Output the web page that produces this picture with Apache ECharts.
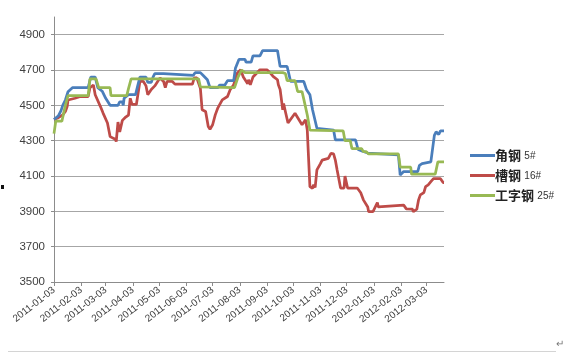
<!DOCTYPE html>
<html>
<head>
<meta charset="utf-8">
<script src="https://cdn.jsdelivr.net/npm/echarts@6/dist/echarts.min.js"></script>
<style>
html,body{margin:0;padding:0;background:#fff;}
#chart{width:567px;height:353px;}
</style>
</head>
<body>
<div id="chart"></div>
<script>
// ---- data ----
const startDate = '2011-01-03';
const endDate = '2012-03-23';
const tickLabels = ['2011-01-03','2011-02-03','2011-03-03','2011-04-03','2011-05-03','2011-06-03',
  '2011-07-03','2011-08-03','2011-09-03','2011-10-03','2011-11-03','2011-12-03',
  '2012-01-03','2012-02-03','2012-03-03'];
const seriesNames = ['角钢 5#', '槽钢 16#', '工字钢 25#'];

const angle5 = [
  ['2011-01-03',4420],['2011-01-08',4440],['2011-01-11',4470],['2011-01-13',4500],['2011-01-16',4530],
  ['2011-01-19',4577],['2011-01-24',4600],['2011-02-11',4600],['2011-02-14',4660],['2011-02-19',4660],
  ['2011-02-22',4600],['2011-02-27',4580],['2011-03-03',4540],['2011-03-08',4500],['2011-03-17',4500],
  ['2011-03-19',4520],['2011-03-22',4520],['2011-03-23',4500],['2011-03-24',4540],['2011-03-29',4560],
  ['2011-04-06',4560],['2011-04-08',4600],['2011-04-11',4660],['2011-04-18',4660],['2011-04-20',4630],
  ['2011-04-24',4630],['2011-04-26',4660],['2011-04-28',4680],['2011-05-08',4680],['2011-05-10',4670],
  ['2011-06-11',4670],['2011-06-13',4685],['2011-06-19',4685],['2011-06-22',4670],['2011-06-27',4645],
  ['2011-06-30',4600],['2011-07-09',4600],['2011-07-11',4615],['2011-07-17',4615],['2011-07-20',4640],
  ['2011-07-27',4640],['2011-07-29',4710],['2011-08-02',4760],['2011-08-09',4760],['2011-08-10',4745],
  ['2011-08-16',4745],['2011-08-18',4780],['2011-08-26',4780],['2011-08-29',4810],['2011-09-15',4810],
  ['2011-09-18',4720],['2011-09-26',4720],['2011-09-30',4635],['2011-10-15',4635],['2011-10-18',4590],
  ['2011-10-22',4560],['2011-10-25',4475],['2011-10-30',4370],['2011-11-18',4360],['2011-11-20',4305],
  ['2011-12-13',4305],['2011-12-16',4250],['2011-12-21',4240],['2011-12-27',4230],['2011-12-29',4220],
  ['2012-01-31',4220],['2012-02-02',4105],['2012-02-06',4125],['2012-02-22',4125],['2012-02-24',4160],
  ['2012-02-27',4170],['2012-03-08',4180],['2012-03-10',4180],['2012-03-12',4330],['2012-03-14',4350],
  ['2012-03-17',4335],['2012-03-19',4355],['2012-03-23',4355]
];

const channel16 = [
  ['2011-01-03',4420],['2011-01-08',4430],['2011-01-10',4437],['2011-01-13',4446],['2011-01-16',4465],
  ['2011-01-18',4493],['2011-01-19',4530],['2011-01-21',4540],['2011-01-27',4540],['2011-02-02',4550],
  ['2011-02-11',4550],['2011-02-13',4600],['2011-02-17',4615],['2011-02-19',4560],['2011-02-21',4550],
  ['2011-02-25',4493],['2011-02-28',4456],['2011-03-05',4400],['2011-03-08',4323],['2011-03-14',4308],
  ['2011-03-15',4295],['2011-03-17',4405],['2011-03-19',4350],['2011-03-22',4415],['2011-03-25',4430],
  ['2011-03-29',4445],['2011-03-31',4540],['2011-04-02',4505],['2011-04-07',4505],['2011-04-11',4635],
  ['2011-04-15',4635],['2011-04-18',4610],['2011-04-20',4560],['2011-04-24',4590],['2011-04-28',4610],
  ['2011-05-02',4640],['2011-05-04',4655],['2011-05-08',4635],['2011-05-10',4600],['2011-05-12',4635],
  ['2011-05-18',4635],['2011-05-21',4620],['2011-06-10',4620],['2011-06-12',4655],['2011-06-15',4655],
  ['2011-06-19',4597],['2011-06-21',4475],['2011-06-22',4486],['2011-06-25',4465],['2011-06-28',4380],
  ['2011-06-30',4365],['2011-07-03',4390],['2011-07-06',4446],['2011-07-09',4486],['2011-07-14',4531],
  ['2011-07-20',4550],['2011-07-23',4588],['2011-07-27',4616],['2011-07-31',4682],['2011-08-04',4701],
  ['2011-08-07',4660],['2011-08-12',4622],['2011-08-13',4645],['2011-08-15',4616],['2011-08-18',4660],
  ['2011-08-26',4701],['2011-09-03',4701],['2011-09-07',4682],['2011-09-10',4664],['2011-09-15',4645],
  ['2011-09-16',4616],['2011-09-18',4590],['2011-09-21',4475],['2011-09-22',4510],['2011-09-24',4465],
  ['2011-09-27',4400],['2011-10-05',4455],['2011-10-13',4390],['2011-10-17',4418],['2011-10-19',4360],
  ['2011-10-20',4250],['2011-10-22',4040],['2011-10-25',4030],['2011-10-26',4050],['2011-10-28',4035],
  ['2011-10-30',4135],['2011-11-03',4170],['2011-11-05',4190],['2011-11-12',4200],['2011-11-15',4228],
  ['2011-11-18',4225],['2011-11-20',4190],['2011-11-22',4135],['2011-11-26',4032],['2011-11-30',4032],
  ['2011-12-01',4100],['2011-12-04',4032],['2011-12-15',4032],['2011-12-19',4005],['2011-12-22',3965],
  ['2011-12-27',3925],['2011-12-28',3898],['2012-01-02',3898],['2012-01-07',3950],['2012-01-08',3925],
  ['2012-01-10',3935],['2012-02-06',3935],['2012-02-09',3914],['2012-02-11',3925],['2012-02-16',3912],
  ['2012-02-17',3898],['2012-02-21',3912],['2012-02-23',3965],['2012-02-25',3993],['2012-02-29',4006],
  ['2012-03-02',4040],['2012-03-05',4050],['2012-03-08',4068],['2012-03-11',4085],['2012-03-19',4085],
  ['2012-03-22',4063],['2012-03-23',4063]
];

const ibeam25 = [
  ['2011-01-03',4340],['2011-01-05',4410],['2011-01-12',4410],['2011-01-16',4500],['2011-01-19',4555],
  ['2011-02-11',4555],['2011-02-13',4650],['2011-02-20',4650],['2011-02-23',4600],['2011-03-08',4600],
  ['2011-03-09',4555],['2011-03-27',4555],['2011-03-29',4595],['2011-04-01',4650],['2011-06-17',4650],
  ['2011-06-19',4605],['2011-07-28',4600],['2011-08-01',4660],['2011-08-05',4700],['2011-08-09',4685],
  ['2011-09-21',4685],['2011-09-24',4680],['2011-09-26',4640],['2011-10-05',4640],['2011-10-08',4578],
  ['2011-10-13',4578],['2011-10-15',4535],['2011-10-19',4445],['2011-10-22',4360],['2011-11-29',4355],
  ['2011-12-01',4300],['2011-12-07',4300],['2011-12-09',4255],['2011-12-20',4255],['2011-12-22',4238],
  ['2011-12-25',4238],['2011-12-28',4225],['2012-01-31',4225],['2012-02-02',4150],['2012-02-14',4150],
  ['2012-02-15',4110],['2012-03-13',4110],['2012-03-16',4180],['2012-03-23',4180]
];

const yMin = 3500, yMax = 5000, yStep = 200;

// ---- day categories for the date axis ----
function fmt(d){
  const m = d.getUTCMonth()+1, day = d.getUTCDate();
  return d.getUTCFullYear()+'-'+(m<10?'0':'')+m+'-'+(day<10?'0':'')+day;
}
const categories = [];
for (let t = Date.parse(startDate+'T00:00:00Z'); t <= Date.parse(endDate+'T00:00:00Z'); t += 86400000) {
  categories.push(fmt(new Date(t)));
}
const tickSet = new Set(tickLabels);

const colors = ['#4A7EBB', '#BE4B48', '#98B954'];
const seriesData = [angle5, channel16, ibeam25];

const chart = echarts.init(document.getElementById('chart'), null, {renderer:'canvas'});
chart.setOption({
  animation: false,
  backgroundColor: '#ffffff',
  color: colors,
  grid: {left: 54, right: 123, top: 17, bottom: 71, containLabel: false},
  legend: {
    orient: 'vertical',
    left: 470,
    top: 149,
    padding: 0,
    itemWidth: 25,
    itemHeight: 3,
    itemGap: 7,
    icon: 'rect',
    data: seriesNames,
    formatter: function(name){
      const p = name.split(' ');
      return '{cn|' + p[0] + '} {num|' + p[1] + '}';
    },
    textStyle: {
      padding: [0,0,0,-5],
      rich: {
        cn: {fontFamily: '"Noto Sans CJK SC"', fontSize: 13, fontWeight: 'bold', color: '#222', lineHeight: 15, verticalAlign: 'middle'},
        num: {fontFamily: '"Liberation Sans", Arial, sans-serif', fontSize: 10, color: '#333', lineHeight: 15, verticalAlign: 'middle', padding: [2,0,0,0]}
      }
    }
  },
  xAxis: {
    type: 'category',
    data: categories,
    boundaryGap: false,
    axisLine: {lineStyle: {color: '#8c8c8c', width: 1}},
    axisTick: {
      show: true, length: 4, inside: false,
      interval: function(i, v){ return tickSet.has(v); },
      lineStyle: {color: '#8c8c8c'}
    },
    axisLabel: {
      interval: function(i, v){ return tickSet.has(v); },
      rotate: 38,
      margin: 7,
      color: '#404040',
      fontSize: 10,
      fontFamily: '"Liberation Sans", Arial, sans-serif'
    },
    splitLine: {show: false}
  },
  yAxis: {
    type: 'value',
    min: yMin, max: yMax, interval: yStep,
    axisLine: {show: true, lineStyle: {color: '#8c8c8c'}},
    axisTick: {show: true, length: 3, lineStyle: {color: '#8c8c8c'}},
    axisLabel: {
      showMaxLabel: false,
      formatter: function(v){ return String(v); },
      margin: 9,
      color: '#404040',
      fontSize: 11.5,
      fontFamily: '"Liberation Sans", Arial, sans-serif'
    },
    splitLine: {show: true, showMaxLine: false, lineStyle: {color: '#a6a6a6', width: 1}}
  },
  series: seriesData.map(function(d, i){
    return {
      name: seriesNames[i],
      type: 'line',
      data: d,
      showSymbol: false,
      symbol: 'none',
      lineStyle: {width: 2.75, color: colors[i]},
      itemStyle: {color: colors[i]},
      z: [3, 2, 4][i]
    };
  }),
  graphic: [
    {type: 'line', shape: {x1: 8, y1: 351.5, x2: 556, y2: 351.5}, style: {stroke: '#d4d4d4', lineWidth: 1}},
    {type: 'rect', shape: {x: 1, y: 185, width: 3, height: 4}, style: {fill: '#111'}},
    {type: 'text', left: 556, top: 339, style: {text: '↵', fontSize: 10, fill: '#777'}}
  ]
});
</script>
</body>
</html>
